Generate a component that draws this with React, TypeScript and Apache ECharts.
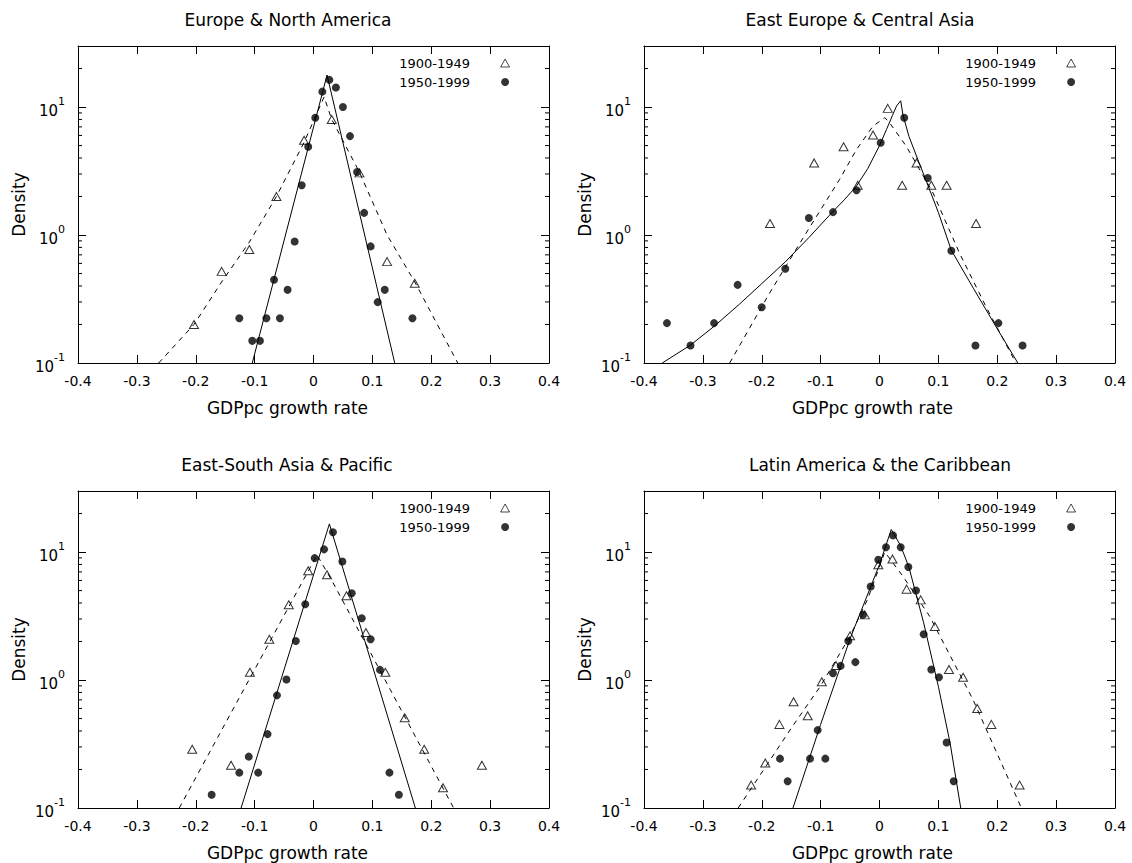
import React, { useEffect, useRef } from 'react';
import * as echarts from 'echarts';

const FONT = 'DejaVu Sans';
const TITLES = [
  'Europe & North America',
  'East Europe & Central Asia',
  'East-South Asia & Pacific',
  'Latin America & the Caribbean',
];
const PERIODS = ['1900-1949', '1950-1999'];
const X_LABEL = 'GDPpc growth rate';
const Y_LABEL = 'Density';
const X_MIN = -0.4;
const X_MAX = 0.4;
const X_STEP = 0.1;
const Y_MIN = 0.1;
const Y_MAX = 30;
const MINOR_Y = [0.2, 0.3, 0.4, 0.5, 0.6, 0.7, 0.8, 0.9, 2, 3, 4, 5, 6, 7, 8, 9, 20];

// Europe & North America
const eu1900 = [[-0.203, 0.2], [-0.156, 0.52], [-0.109, 0.77], [-0.063, 2.0], [-0.016, 5.5], [0.031, 8.0], [0.078, 3.06], [0.125, 0.62], [0.172, 0.42]];
const eu1950 = [[-0.126, 0.224], [-0.104, 0.149], [-0.091, 0.149], [-0.08, 0.224], [-0.067, 0.447], [-0.057, 0.224], [-0.044, 0.373], [-0.032, 0.89], [-0.02, 2.45], [-0.009, 4.89], [0.003, 8.25], [0.015, 13.2], [0.027, 16.3], [0.038, 14.2], [0.05, 10.0], [0.062, 5.93], [0.074, 3.11], [0.086, 1.49], [0.097, 0.815], [0.109, 0.299], [0.121, 0.373], [0.168, 0.224]];
const euFit1900 = [[-0.263, 0.1], [-0.203, 0.2], [-0.156, 0.43], [-0.109, 0.88], [-0.063, 2.0], [-0.016, 5.3], [0.018, 12], [0.031, 8.0], [0.078, 3.1], [0.125, 1.0], [0.172, 0.43], [0.245, 0.1]];
const euFit1950 = [[-0.104, 0.1], [0.023, 17.8], [0.138, 0.1]];

// East Europe & Central Asia
const ee1900 = [[-0.186, 1.23], [-0.111, 3.66], [-0.061, 4.89], [-0.037, 2.45], [-0.011, 6.04], [0.014, 9.77], [0.0385, 2.45], [0.063, 3.66], [0.088, 2.45], [0.114, 2.45], [0.164, 1.23]];
const ee1950 = [[-0.361, 0.205], [-0.321, 0.137], [-0.281, 0.205], [-0.241, 0.408], [-0.2, 0.273], [-0.16, 0.545], [-0.12, 1.36], [-0.079, 1.51], [-0.039, 2.24], [0.002, 5.26], [0.042, 8.25], [0.082, 2.79], [0.122, 0.754], [0.163, 0.137], [0.202, 0.205], [0.243, 0.137]];
const eeFit1900 = [[-0.2545, 0.1], [-0.187, 0.35], [-0.13, 0.946], [-0.068, 2.71], [-0.039, 4.66], [-0.011, 7.1], [0.009, 8.26], [0.017, 7.55], [0.0455, 4.94], [0.091, 2.13], [0.136, 0.72], [0.181, 0.275], [0.2265, 0.111], [0.232, 0.1]];
const eeFit1950 = [[-0.369, 0.1], [-0.321, 0.138], [-0.28, 0.195], [-0.238, 0.288], [-0.2, 0.417], [-0.16, 0.617], [-0.12, 0.955], [-0.08, 1.51], [-0.06, 1.88], [-0.04, 2.38], [-0.02, 3.3], [0.0, 5.0], [0.012, 6.7], [0.022, 8.6], [0.029, 10.2], [0.036, 11.2], [0.04, 8.6], [0.05, 5.9], [0.065, 3.9], [0.08, 2.6], [0.1, 1.5], [0.122, 0.76], [0.16, 0.38], [0.2, 0.185], [0.235, 0.1]];

// East-South Asia & Pacific
const es1900 = [[-0.206, 0.288], [-0.14, 0.216], [-0.108, 1.15], [-0.075, 2.08], [-0.042, 3.87], [-0.009, 7.14], [0.023, 6.64], [0.056, 4.55], [0.089, 2.35], [0.122, 1.15], [0.155, 0.507], [0.188, 0.288], [0.22, 0.144], [0.286, 0.216]];
const es1950 = [[-0.173, 0.127], [-0.126, 0.189], [-0.11, 0.252], [-0.094, 0.189], [-0.078, 0.378], [-0.062, 0.759], [-0.046, 1.01], [-0.03, 2.02], [-0.014, 3.91], [0.002, 8.97], [0.018, 10.5], [0.033, 14.3], [0.049, 8.45], [0.065, 4.77], [0.082, 3.04], [0.097, 2.08], [0.113, 1.2], [0.129, 0.189], [0.145, 0.127]];
const esFit1900 = [[-0.228, 0.1], [0.006, 9.5], [0.032, 5.9], [0.238, 0.1]];
const esFit1950 = [[-0.123, 0.1], [0.027, 16.6], [0.173, 0.1]];

// Latin America & the Caribbean
const la1900 = [[-0.218, 0.151], [-0.194, 0.225], [-0.17, 0.45], [-0.146, 0.676], [-0.122, 0.526], [-0.098, 0.97], [-0.074, 1.3], [-0.05, 2.22], [-0.025, 3.23], [-0.002, 7.96], [0.022, 8.82], [0.046, 5.13], [0.07, 4.23], [0.094, 2.62], [0.118, 1.21], [0.142, 1.05], [0.166, 0.6], [0.19, 0.45], [0.238, 0.151]];
const la1950 = [[-0.169, 0.243], [-0.156, 0.162], [-0.118, 0.243], [-0.105, 0.406], [-0.092, 0.243], [-0.079, 1.13], [-0.066, 1.29], [-0.053, 2.02], [-0.041, 1.38], [-0.028, 3.23], [-0.015, 5.38], [-0.002, 8.71], [0.011, 10.9], [0.023, 13.5], [0.036, 10.9], [0.049, 7.64], [0.062, 5.01], [0.075, 2.28], [0.088, 1.21], [0.101, 1.05], [0.114, 0.325], [0.126, 0.162]];
const laFit1900 = [[-0.24, 0.1], [-0.15, 0.42], [-0.1, 0.9], [-0.05, 2.2], [-0.02, 4.3], [0.009, 10.0], [0.04, 6.45], [0.0855, 3.13], [0.159, 0.7], [0.241, 0.1]];
const laFit1950 = [[-0.147, 0.1], [-0.1, 0.45], [-0.05, 2.1], [0.0, 8.0], [0.02, 15.0], [0.036, 11.2], [0.05, 7.6], [0.075, 2.8], [0.1, 0.89], [0.12, 0.32], [0.138, 0.1]];

const PANELS = [
  { p1900: eu1900, p1950: eu1950, f1900: euFit1900, f1950: euFit1950 },
  { p1900: ee1900, p1950: ee1950, f1900: eeFit1900, f1950: eeFit1950 },
  { p1900: es1900, p1950: es1950, f1900: esFit1900, f1950: esFit1950 },
  { p1900: la1900, p1950: la1950, f1900: laFit1900, f1950: laFit1950 },
];

const GRID_W = 471;
const GRID_H = 317;
const GRIDS = [
  { left: 78, top: 46 },
  { left: 644, top: 46 },
  { left: 78, top: 491 },
  { left: 644, top: 491 },
];
// horizontal centres of titles and x-axis label shifts (as placed in the original)
const TITLE_CX = [288, 860, 287, 880];
const XNAME_SHIFT = [26, 7, 26, 7];

const BLACK = '#000';
const TRIANGLE_ICON = 'path://M5,0L10,9L0,9Z';

function buildOption() {
  const grid: any[] = [];
  const xAxis: any[] = [];
  const yAxis: any[] = [];
  const series: any[] = [];
  const legend: any[] = [];
  const graphic: any[] = [];

  GRIDS.forEach((g, i) => {
    grid.push({ left: g.left, top: g.top, width: GRID_W, height: GRID_H, show: false });

    const xBase = {
      gridIndex: i,
      type: 'value',
      min: X_MIN,
      max: X_MAX,
      interval: X_STEP,
      axisLine: { show: true, onZero: false, lineStyle: { color: BLACK, width: 1 } },
      axisTick: { show: true, inside: true, length: 8, lineStyle: { color: BLACK, width: 1 } },
      splitLine: { show: false },
    };
    xAxis.push({
      ...xBase,
      position: 'bottom',
      axisLabel: {
        color: BLACK,
        fontSize: 14,
        fontFamily: FONT,
        margin: 11,
        formatter: (v: number) => {
          const r = Math.round(v * 10) / 10;
          return r === 0 ? '0' : String(r);
        },
      },
      name: X_LABEL,
      nameLocation: 'middle',
      nameGap: 36,
      nameTextStyle: {
        color: BLACK,
        fontSize: 17,
        fontFamily: FONT,
        padding: [0, 2 * XNAME_SHIFT[i], 0, 0],
      },
    });
    xAxis.push({ ...xBase, position: 'top', axisLabel: { show: false } });

    const yBase = {
      gridIndex: i,
      type: 'log',
      logBase: 10,
      min: Y_MIN,
      max: Y_MAX,
      axisLine: { show: true, onZero: false, lineStyle: { color: BLACK, width: 1 } },
      axisTick: { show: true, inside: true, length: 8, lineStyle: { color: BLACK, width: 1 } },
      splitLine: { show: false },
      minorTick: { show: false },
    };
    yAxis.push({
      ...yBase,
      position: 'left',
      axisLabel: {
        color: BLACK,
        margin: 13,
        formatter: (v: number) => {
          const l = Math.log10(v);
          const e = Math.round(l);
          if (Math.abs(l - e) > 1e-6) return '';
          return `{b|10}{s|${e}}`;
        },
        rich: {
          b: { fontSize: 15, fontFamily: FONT, color: BLACK, lineHeight: 22, verticalAlign: 'bottom' },
          s: { fontSize: 11, fontFamily: FONT, color: BLACK, lineHeight: 10, verticalAlign: 'top' },
        },
      },
      name: Y_LABEL,
      nameLocation: 'middle',
      nameGap: 51,
      nameRotate: 90,
      nameTextStyle: { color: BLACK, fontSize: 17, fontFamily: FONT },
    });
    yAxis.push({ ...yBase, position: 'right', axisLabel: { show: false } });

    const p = PANELS[i];
    const xi = 2 * i;
    const yi = 2 * i;
    series.push({
      type: 'line',
      name: `fit-${PERIODS[0]}-${i}`,
      xAxisIndex: xi,
      yAxisIndex: yi,
      data: p.f1900,
      symbol: 'none',
      silent: true,
      lineStyle: { color: BLACK, width: 1, type: [5, 5] },
      z: 2,
    });
    series.push({
      type: 'line',
      name: `fit-${PERIODS[1]}-${i}`,
      xAxisIndex: xi,
      yAxisIndex: yi,
      data: p.f1950,
      symbol: 'none',
      silent: true,
      lineStyle: { color: BLACK, width: 1, type: 'solid' },
      z: 2,
    });
    series.push({
      type: 'scatter',
      name: PERIODS[0],
      xAxisIndex: xi,
      yAxisIndex: yi,
      data: p.p1900,
      symbol: 'triangle',
      symbolSize: [9, 8],
      itemStyle: { color: 'rgba(0,0,0,0)', borderColor: BLACK, borderWidth: 1 },
      z: 3,
    });
    series.push({
      type: 'scatter',
      name: PERIODS[1],
      xAxisIndex: xi,
      yAxisIndex: yi,
      data: p.p1950,
      symbol: 'circle',
      symbolSize: 8,
      itemStyle: { color: BLACK },
      z: 3,
    });
    series.push({
      type: 'custom',
      name: `minor-${i}`,
      xAxisIndex: xi,
      yAxisIndex: yi,
      silent: true,
      data: MINOR_Y.map((v) => [0, v]),
      renderItem: (params: any, api: any) => {
        const v = api.value(1);
        const l = api.coord([X_MIN, v]);
        const r = api.coord([X_MAX, v]);
        return {
          type: 'group',
          children: [
            { type: 'line', shape: { x1: l[0], y1: l[1], x2: l[0] + 4, y2: l[1] }, style: { stroke: BLACK, lineWidth: 1 } },
            { type: 'line', shape: { x1: r[0] - 4, y1: r[1], x2: r[0], y2: r[1] }, style: { stroke: BLACK, lineWidth: 1 } },
          ],
        };
      },
      z: 4,
    });

    legend.push({
      orient: 'vertical',
      right: 1132 - (g.left + 432),
      top: g.top + 10,
      align: 'right',
      itemWidth: 60,
      itemHeight: 8,
      itemGap: 5,
      padding: 0,
      selectedMode: false,
      symbolKeepAspect: true,
      textStyle: { color: BLACK, fontSize: 13, fontFamily: FONT, lineHeight: 14 },
      data: [
        { name: PERIODS[0], icon: TRIANGLE_ICON, itemStyle: { borderWidth: 0.9 } },
        { name: PERIODS[1] },
      ],
    });

    graphic.push({
      type: 'text',
      x: TITLE_CX[i],
      y: g.top - 26,
      style: {
        text: TITLES[i],
        fontSize: 17,
        fontFamily: FONT,
        fill: BLACK,
        align: 'center',
        verticalAlign: 'middle',
      },
    });
  });

  return {
    animation: false,
    backgroundColor: '#fff',
    grid,
    xAxis,
    yAxis,
    series,
    legend,
    graphic,
  };
}

export default function App() {
  const ref = useRef<HTMLDivElement>(null);
  useEffect(() => {
    if (!ref.current) return;
    const chart = echarts.init(ref.current, null, { renderer: 'svg' });
    chart.setOption(buildOption() as any);
    return () => chart.dispose();
  }, []);
  return (
    <div
      ref={ref}
      style={{ position: 'fixed', left: 0, top: 0, width: 1132, height: 863, background: '#fff' }}
    />
  );
}
